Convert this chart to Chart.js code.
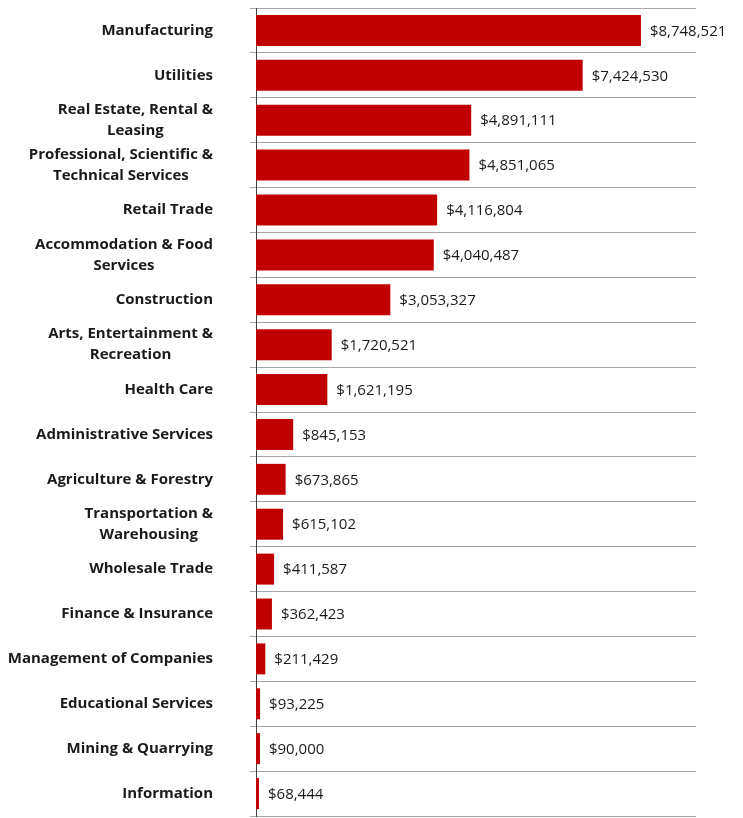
<!DOCTYPE html>
<html>
<head>
<meta charset="utf-8">
<script src="https://cdn.jsdelivr.net/npm/chart.js@4/dist/chart.umd.min.js"></script>
<style>
  html, body { margin: 0; padding: 0; background: #fff; }
  #wrap { position: relative; width: 743px; height: 818px; }
</style>
</head>
<body>
<div id="wrap"><canvas id="myChart"></canvas></div>
<script>
var industries = [
    ["Manufacturing"],
    ["Utilities"],
    ["Real Estate, Rental &", "Leasing"],
    ["Professional, Scientific &", "Technical Services"],
    ["Retail Trade"],
    ["Accommodation & Food", "Services"],
    ["Construction"],
    ["Arts, Entertainment &", "Recreation"],
    ["Health Care"],
    ["Administrative Services"],
    ["Agriculture & Forestry"],
    ["Transportation &", "Warehousing"],
    ["Wholesale Trade"],
    ["Finance & Insurance"],
    ["Management of Companies"],
    ["Educational Services"],
    ["Mining & Quarrying"],
    ["Information"]
];
var amounts = [8748521, 7424530, 4891111, 4851065, 4116804, 4040487, 3053327, 1720521,
    1621195, 845153, 673865, 615102, 411587, 362423, 211429, 93225, 90000, 68444];
var axisMax = 10000000;

var labelFont = "bold 15px 'Open Sans'";
var valueFont = "15px 'Open Sans'";

// category labels: each block right aligned, lines centred inside it (like Excel)
var categoryLabels = {
    id: 'categoryLabels',
    afterDraw: function(chart){
        var ctx = chart.ctx;
        var y = chart.scales.y;
        ctx.save();
        ctx.font = labelFont;
        ctx.fillStyle = '#1a1a1a';
        ctx.textAlign = 'center';
        ctx.textBaseline = 'middle';
        var right = 213;
        var lineH = 21;
        industries.forEach(function(lines, i){
            var widest = 0;
            lines.forEach(function(l){ widest = Math.max(widest, ctx.measureText(l).width); });
            var cx = right - widest / 2;
            var cy = y.getPixelForValue(i);
            lines.forEach(function(l, j){
                ctx.fillText(l, cx, cy + (j - (lines.length - 1) / 2) * lineH);
            });
        });
        ctx.restore();
    }
};

// value labels to the right of each bar
var valueLabels = {
    id: 'valueLabels',
    afterDatasetsDraw: function(chart){
        var ctx = chart.ctx;
        var meta = chart.getDatasetMeta(0);
        ctx.save();
        ctx.font = valueFont;
        ctx.fillStyle = '#1a1a1a';
        ctx.textAlign = 'left';
        ctx.textBaseline = 'middle';
        meta.data.forEach(function(bar, i){
            ctx.fillText('$' + amounts[i].toLocaleString('en-US'), bar.x + 9, bar.y + 1);
        });
        ctx.restore();
    }
};

var ctx = document.getElementById('myChart').getContext('2d');
var myChart = new Chart(ctx, {
    type: 'bar',
    data: {
        labels: industries,
        datasets: [{
            data: amounts,
            backgroundColor: '#c00000',
            borderWidth: 0,
            barPercentage: 0.69,
            categoryPercentage: 1
        }]
    },
    options: {
        indexAxis: 'y',
        responsive: true,
        maintainAspectRatio: false,
        animation: false,
        layout: { padding: { top: 8, bottom: 2, left: 0, right: 47 } },
        plugins: {
            legend: { display: false },
            tooltip: { enabled: false }
        },
        scales: {
            x: {
                display: false,
                min: 0,
                max: axisMax
            },
            y: {
                grid: {
                    offset: true,
                    color: '#a6a6a6',
                    lineWidth: 1,
                    tickLength: 6,
                    drawTicks: true
                },
                border: { color: '#404040', width: 1 },
                ticks: { display: false },
                afterFit: function(scale){ scale.width = 256; }
            }
        }
    },
    plugins: [categoryLabels, valueLabels]
});
</script>
</body>
</html>
